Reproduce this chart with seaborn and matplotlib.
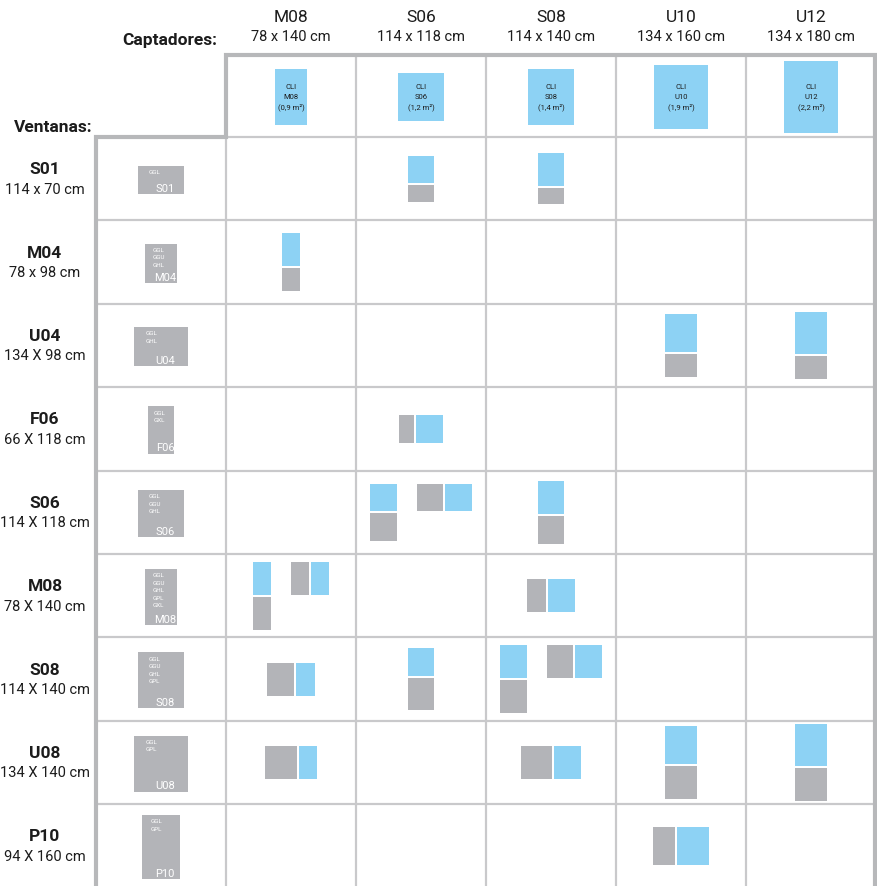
import matplotlib
matplotlib.use('Agg')
import matplotlib.pyplot as plt
from matplotlib.patches import Rectangle
import seaborn as sns

# Captadores (columns)
collectors = ['M08', 'S06', 'S08', 'U10', 'U12']
collector_w = [78, 114, 114, 134, 134]
collector_h = [140, 118, 140, 160, 180]
collector_dims = ['78 x 140 cm', '114 x 118 cm', '114 x 140 cm', '134 x 160 cm', '134 x 180 cm']
collector_area = ['0,9', '1,2', '1,4', '1,9', '2,2']

# Ventanas (rows)
windows = ['S01', 'M04', 'U04', 'F06', 'S06', 'M08', 'S08', 'U08', 'P10']
window_w = [114, 78, 134, 66, 114, 78, 114, 134, 94]
window_h = [70, 98, 98, 118, 118, 140, 140, 140, 160]
window_dims = ['114 x 70 cm', '78 x 98 cm', '134 X 98 cm', '66 X 118 cm', '114 X 118 cm',
               '78 X 140 cm', '114 X 140 cm', '134 X 140 cm', '94 X 160 cm']
window_types = [['GGL'], ['GGL', 'GGU', 'GHL'], ['GGL', 'GHL'], ['GGL', 'GXL'],
                ['GGL', 'GGU', 'GHL'], ['GGL', 'GGU', 'GHL', 'GPL', 'GXL'],
                ['GGL', 'GGU', 'GHL', 'GPL'], ['GGL', 'GPL'], ['GGL', 'GPL']]

# v = captador encima de la ventana, h = captador al lado
combos = {
    ('S01', 'S06'): ['v'], ('S01', 'S08'): ['v'],
    ('M04', 'M08'): ['v'],
    ('U04', 'U10'): ['v'], ('U04', 'U12'): ['v'],
    ('F06', 'S06'): ['h'],
    ('S06', 'S06'): ['v', 'h'], ('S06', 'S08'): ['v'],
    ('M08', 'M08'): ['v', 'h'], ('M08', 'S08'): ['h'],
    ('S08', 'M08'): ['h'], ('S08', 'S06'): ['v'], ('S08', 'S08'): ['v', 'h'],
    ('U08', 'M08'): ['h'], ('U08', 'S08'): ['h'], ('U08', 'U10'): ['v'], ('U08', 'U12'): ['v'],
    ('P10', 'U10'): ['h'],
}

BLUE = '#8dd2f4'
GREY = '#b3b4b8'
LINE = '#c9c9cb'
EDGE = '#b7b8ba'
INK = '#1c1c1c'

sns.set_theme(style='white')
plt.rcParams['font.family'] = ['Roboto', 'DejaVu Sans']

W, H = 877, 887
fig = plt.figure(figsize=(W / 100, H / 100), dpi=100)
ax = fig.add_axes([0, 0, 1, 1])
ax.set_xlim(0, W)
ax.set_ylim(H, 0)
ax.axis('off')

# layout
x0, col_w = 96, 130
head_top, head_bot = 56, 138
row_h = 83.4
s_cell, s_icon = 0.235, 0.4
gap, sep = 2, 20

col_edges = [x0 + col_w * i for i in range(len(collectors) + 2)]
row_edges = [head_bot + row_h * i for i in range(len(windows) + 1)]

# grid
for y in row_edges[1:]:
    ax.plot([x0, W], [y, y], color=LINE, lw=1.6, zorder=1)
ax.plot([col_edges[1], W], [head_bot, head_bot], color=LINE, lw=1.6, zorder=1)
for x in col_edges[2:-1]:
    ax.plot([x, x], [head_top, H], color=LINE, lw=1.6, zorder=1)
ax.plot([col_edges[1], col_edges[1]], [head_bot, H], color=LINE, lw=1.6, zorder=1)
# outer stepped border
ax.plot([x0, x0, col_edges[1], col_edges[1], W - 2, W - 2],
        [H, head_bot, head_bot, head_top, head_top, H],
        color=EDGE, lw=3, zorder=2, solid_joinstyle='miter')

ax.text(217, 40, 'Captadores:', ha='right', va='center', fontsize=12.5,
        fontweight='bold', color=INK)
ax.text(14, 128, 'Ventanas:', ha='left', va='center', fontsize=12.5,
        fontweight='bold', color=INK)

# header: collectors
hy = (head_top + head_bot) / 2
for j, name in enumerate(collectors):
    cx = col_edges[j + 1] + col_w / 2
    ax.text(cx, 17, name, ha='center', va='center', fontsize=12.5, color=INK)
    ax.text(cx, 37, collector_dims[j], ha='center', va='center', fontsize=10.5, color=INK)
    w, h = collector_w[j] * s_icon, collector_h[j] * s_icon
    ax.add_patch(Rectangle((cx - w / 2, hy + 1 - h / 2), w, h, color=BLUE, lw=0, zorder=3))
    for k, t in enumerate(['CLI', name, f'({collector_area[j]} m²)']):
        ax.text(cx, 87 + 10 * k, t, ha='center', va='center', fontsize=5.5, color=INK, zorder=4)

# rows: windows
for i, name in enumerate(windows):
    cy = (row_edges[i] + row_edges[i + 1]) / 2
    ax.text(45, cy - 10, name, ha='center', va='center', fontsize=12.5,
            fontweight='bold', color=INK)
    ax.text(45, cy + 10, window_dims[i], ha='center', va='center', fontsize=10.5, color=INK)
    cx = x0 + col_w / 2
    w, h = window_w[i] * s_icon, window_h[i] * s_icon
    left, top = cx - w / 2, cy + 1 - h / 2
    ax.add_patch(Rectangle((left, top), w, h, color=GREY, lw=0, zorder=3))
    for k, t in enumerate(window_types[i]):
        ax.text(left + 0.2 * w + 1, top + 6 + 7.5 * k, t, ha='left', va='center',
                fontsize=4.5, color='white', zorder=4)
    ax.text(cx + 4, top + h - 1, name, ha='center', va='bottom', fontsize=8,
            color='white', zorder=4)

# combinations
for i, wname in enumerate(windows):
    cy = (row_edges[i] + row_edges[i + 1]) / 2
    ww, wh = window_w[i] * s_cell, window_h[i] * s_cell
    for j, cname in enumerate(collectors):
        arr = combos.get((wname, cname), [])
        if not arr:
            continue
        cw, ch = collector_w[j] * s_cell, collector_h[j] * s_cell
        sizes = []
        for a in arr:
            if a == 'v':
                sizes.append((max(cw, ww), ch + gap + wh))
            else:
                sizes.append((ww + gap + cw, max(ch, wh)))
        total = sum(sz[0] for sz in sizes) + sep * (len(sizes) - 1)
        tallest = max(sz[1] for sz in sizes)
        x = col_edges[j + 1] + col_w / 2 - total / 2
        top = cy - tallest / 2
        for a, (gw, gh) in zip(arr, sizes):
            if a == 'v':
                ax.add_patch(Rectangle((x + (gw - cw) / 2, top), cw, ch, color=BLUE, lw=0, zorder=3))
                ax.add_patch(Rectangle((x + (gw - ww) / 2, top + ch + gap), ww, wh, color=GREY, lw=0, zorder=3))
            else:
                ax.add_patch(Rectangle((x, top), ww, wh, color=GREY, lw=0, zorder=3))
                ax.add_patch(Rectangle((x + ww + gap, top), cw, ch, color=BLUE, lw=0, zorder=3))
            x += gw + sep

fig.savefig('out.png', dpi=100, facecolor='white')
